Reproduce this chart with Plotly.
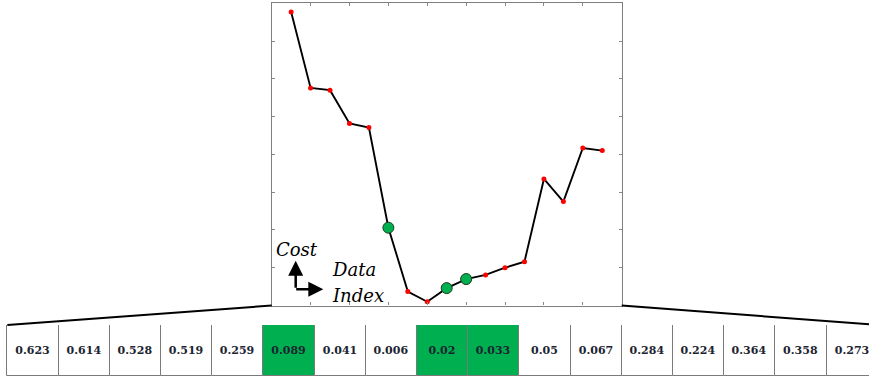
import plotly.graph_objects as go

# Cost curve over the data index (1..17)
index = list(range(1, 18))
cost = [7.77, 5.76, 5.70, 4.82, 4.71, 2.06, 0.37, 0.10, 0.46, 0.70,
        0.81, 1.00, 1.16, 3.35, 2.75, 4.17, 4.10]

# Values shown in the strip below the chart
cell_values = ["0.623", "0.614", "0.528", "0.519", "0.259", "0.089", "0.041",
               "0.006", "0.02", "0.033", "0.05", "0.067", "0.284", "0.224",
               "0.364", "0.358", "0.273"]

# Highlighted positions (0-based)
highlight = [5, 8, 9]

GREEN = "#00b050"
W, H = 869, 378

# Layout geometry in paper units
plot_x = [271.7 / W, 621.7 / W]
plot_y = [1 - 305.5 / H, 1 - 3.3 / H]
table_y = [1 - 376 / H, 1 - 325 / H]
cell_px = 51.2
table_left_px = 7.3
t_start = -0.5 - table_left_px / cell_px
t_end = t_start + W / cell_px

fig = go.Figure()

# Cost line with small red point markers
fig.add_trace(go.Scatter(
    x=index, y=cost, mode="lines+markers",
    line=dict(color="black", width=1.9),
    marker=dict(color="red", size=5),
    xaxis="x", yaxis="y", showlegend=False, hoverinfo="skip"))

# Highlighted points
fig.add_trace(go.Scatter(
    x=[index[i] for i in highlight], y=[cost[i] for i in highlight],
    mode="markers",
    marker=dict(color=GREEN, size=11, line=dict(color="#1a3a1a", width=1)),
    xaxis="x", yaxis="y", showlegend=False, hoverinfo="skip"))

# Value strip drawn as unit-height bars
fig.add_trace(go.Bar(
    x=list(range(len(cell_values))), y=[1] * len(cell_values), width=1,
    marker=dict(color=[GREEN if i in highlight else "white"
                       for i in range(len(cell_values))],
                line=dict(color="#7a7a7a", width=1)),
    text=cell_values, textposition="inside", insidetextanchor="middle",
    textangle=0,
    textfont=dict(family="DejaVu Serif", size=11, color="#1c2430",
                  weight="bold"),
    xaxis="x2", yaxis="y2", showlegend=False, hoverinfo="skip"))

axis_common = dict(showgrid=False, zeroline=False, showticklabels=False)

fig.update_layout(
    width=W, height=H,
    margin=dict(l=0, r=0, t=0, b=0),
    paper_bgcolor="white", plot_bgcolor="white",
    xaxis=dict(domain=plot_x, range=[0, 18], tick0=0, dtick=2,
               ticks="inside", ticklen=3, tickcolor="#888888",
               showline=True, linecolor="#7f7f7f", linewidth=1.3,
               mirror="ticks", anchor="y", **axis_common),
    yaxis=dict(domain=plot_y, range=[0, 8], tick0=0, dtick=1,
               ticks="inside", ticklen=3, tickcolor="#888888",
               showline=True, linecolor="#7f7f7f", linewidth=1.3,
               mirror="ticks", anchor="x", **axis_common),
    xaxis2=dict(domain=[0, 1], range=[t_start, t_end], anchor="y2",
                showline=False, **axis_common),
    yaxis2=dict(domain=table_y, range=[0, 1], anchor="x2",
                showline=False, **axis_common),
    bargap=0,
)

# Lines joining the plot's bottom corners to the strip's top corners
strip_left = table_left_px / W
strip_right = (table_left_px + len(cell_values) * cell_px) / W
for px_top, px_bot in [(plot_x[0], strip_left), (plot_x[1], strip_right)]:
    fig.add_shape(type="line", xref="paper", yref="paper",
                  x0=px_top, y0=plot_y[0], x1=px_bot, y1=table_y[1],
                  line=dict(color="black", width=2))

# Axis legend: "Cost" up, "Data Index" right
label_font = dict(family="DejaVu Serif", size=18, color="black",
                  style="italic")
corner = (295.7 / W, 1 - 289.3 / H)
fig.add_annotation(xref="paper", yref="paper", x=corner[0], y=1 - 260.7 / H,
                   ax=0, ay=28.6, text="", showarrow=True, arrowhead=2,
                   arrowsize=1.2, arrowwidth=2.5, arrowcolor="black",
                   standoff=0)
fig.add_annotation(xref="paper", yref="paper", x=323.3 / W, y=corner[1],
                   ax=-28.6, ay=0, text="", showarrow=True, arrowhead=2,
                   arrowsize=1.2, arrowwidth=2.5, arrowcolor="black",
                   standoff=0)
fig.add_annotation(xref="paper", yref="paper", x=274 / W, y=1 - 249 / H,
                   xanchor="left", yanchor="middle", text="Cost",
                   showarrow=False, font=label_font)
fig.add_annotation(xref="paper", yref="paper", x=330 / W, y=1 - 269 / H,
                   xanchor="left", yanchor="middle", text="Data",
                   showarrow=False, font=label_font)
fig.add_annotation(xref="paper", yref="paper", x=330 / W, y=1 - 295 / H,
                   xanchor="left", yanchor="middle", text="Index",
                   showarrow=False, font=label_font)

fig.write_html("out.html")
